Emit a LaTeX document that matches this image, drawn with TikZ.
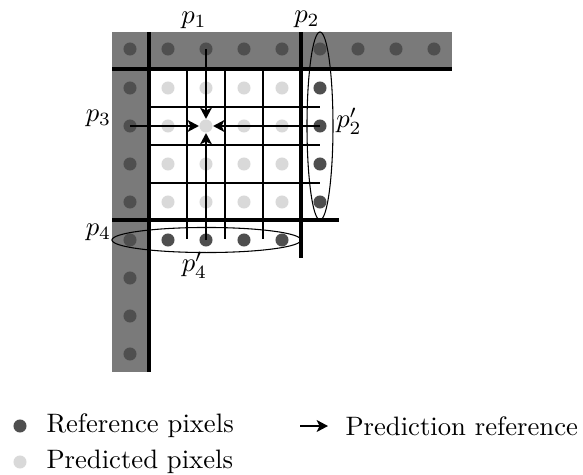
\documentclass[tikz,border=0pt]{standalone}
\usetikzlibrary{arrows.meta,shapes.geometric}
\definecolor{bandgray}{gray}{0.48}
\definecolor{refdot}{gray}{0.31}
\definecolor{preddot}{gray}{0.85}
\begin{document}
\begin{tikzpicture}[x=0.375pt,y=-0.375pt,
  rdot/.style={circle,fill=refdot,inner sep=0pt,minimum size=4.9pt},
  pdot/.style={circle,fill=preddot,inner sep=0pt,minimum size=4.9pt},
  thickline/.style={line width=1.15pt},
  thinline/.style={line width=0.4pt},
  arr/.style={line width=0.85pt,-{Stealth[length=4.2pt,width=4.4pt,inset=1pt]}},
  ring/.style={draw,ellipse,thinline,inner sep=0pt},
  lbl/.style={inner sep=0pt},
  legtext/.style={anchor=west,inner sep=0pt}]
\useasboundingbox (0,0) rectangle (583,475);
% gray bands
\fill[bandgray] (112,32) rectangle (452,69);
\fill[bandgray] (112,32) rectangle (149,372);
% thin grid
\foreach \x in {187,225,263} \draw[thinline] (\x,69) -- (\x,239);
\foreach \y in {107,145,183} \draw[thinline] (149,\y) -- (320,\y);
% thick lines
\draw[thickline] (112,69) -- (452,69);
\draw[thickline] (149,32) -- (149,372);
\draw[thickline] (301,32) -- (301,258);
\draw[thickline] (112,220) -- (339,220);
% top row reference dots
\foreach \x [count=\i] in {130,168,206,244,282,320,358,396,434}
  \node[rdot] (t\i) at (\x,49) {};
% left column reference dots
\foreach \y [count=\i] in {88,126,164,202,240,278,316,354}
  \node[rdot] (l\i) at (130,\y) {};
% right column reference dots
\foreach \y [count=\i] in {88,126,164,202}
  \node[rdot] (r\i) at (320,\y) {};
% bottom row reference dots
\foreach \x [count=\i] in {168,206,244,282}
  \node[rdot] (b\i) at (\x,240) {};
% predicted dots
\foreach \y [count=\j] in {88,126,164,202}
  \foreach \x [count=\i] in {168,206,244,282}
    \node[pdot] (q\i\j) at (\x,\y) {};
% ellipses
\node[ring,minimum width=9.75pt,minimum height=70.5pt] (e2) at (320,126) {};
\node[ring,minimum width=70.9pt,minimum height=9.4pt] (e4) at (206.5,240) {};
% arrows to the target pixel
\draw[arr] (t3.center) -- (q22);
\draw[arr] (l2.center) -- (q22);
\draw[arr] (r2.center) -- (q22);
\draw[arr] (b2.center) -- (q22);
% labels
\node[lbl] (p1) at (194,20) {$p_1$};
\node[lbl] (p2) at (307,19) {$p_2$};
\node[lbl] (p3) at (98.5,118) {$p_3$};
\node[lbl] (p4) at (98.5,232) {$p_4$};
\node[lbl] (p2p) at (349,121) {$p_2'$};
\node[lbl] (p4p) at (194.5,265) {$p_4'$};
% legend
\node[rdot] (lg1) at (20,426) {};
\node[legtext] (lt1) at (46,426) {Reference pixels};
\node[pdot] (lg2) at (20,462) {};
\node[legtext] (lt2) at (46,462) {Predicted pixels};
\coordinate (la) at (300,426);
\coordinate (lb) at (328,426);
\draw[arr] (la) -- (lb);
\node[legtext] (lt3) at (345,426) {Prediction reference};
\end{tikzpicture}
\end{document}
